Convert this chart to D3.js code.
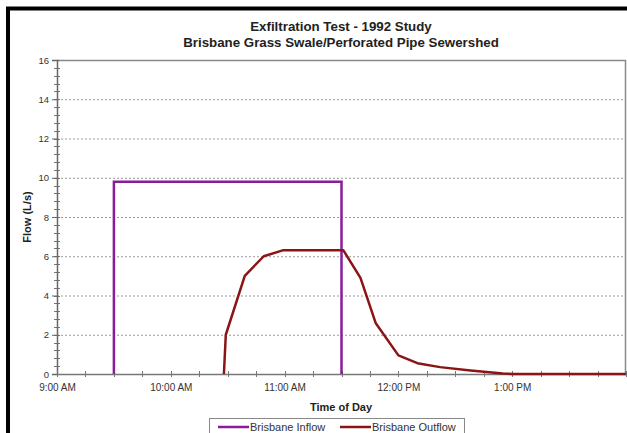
<!DOCTYPE html>
<html>
<head>
<meta charset="utf-8">
<script src="https://cdn.jsdelivr.net/npm/d3@7"></script>
<style>
  body { margin: 0; background: #fff; }
  svg { display: block; font-family: "Liberation Sans", Arial, sans-serif; }
</style>
</head>
<body>
<svg id="chart" width="627" height="433"></svg>
<script>
// Data (time as "H:MM", flow in L/s)
var inflowTimes = ["9:30", "9:30", "11:30", "11:30"];
var inflowValues = [0, 9.8, 9.8, 0];

var outflowTimes = ["10:28", "10:29", "10:39", "10:49", "10:59", "11:31", "11:40", "11:48",
                    "12:00", "12:10", "12:22", "12:38", "12:55", "13:00", "14:00"];
var outflowValues = [0, 2.0, 5.0, 6.0, 6.3, 6.3, 4.9, 2.6, 0.95, 0.55, 0.35, 0.18, 0.03, 0, 0];

var yTicks = [0, 2, 4, 6, 8, 10, 12, 14, 16];
var xTickLabels = ["9:00 AM", "10:00 AM", "11:00 AM", "12:00 PM", "1:00 PM"];

var svg = d3.select('#chart');
var width = +svg.attr('width');
var height = +svg.attr('height');

var margin = {top: 60, right: 1, bottom: 59, left: 57};

var parseTime = function(s) {
    var p = s.split(':');
    return new Date(1992, 0, 1, +p[0], +p[1]);
};

var inflow = inflowTimes.map(function(t, i) { return {t: parseTime(t), v: inflowValues[i]}; });
var outflow = outflowTimes.map(function(t, i) { return {t: parseTime(t), v: outflowValues[i]}; });

var x = d3.scaleTime()
    .domain([parseTime("9:00"), parseTime("14:00")])
    .range([margin.left, width - margin.right]);
var y = d3.scaleLinear()
    .domain([0, 16])
    .range([height - margin.bottom, margin.top]);

// outer black frame
svg.append('path')
    .attr('d', 'M8,' + (height + 5) + ' V8.5 H' + (width + 5))
    .attr('fill', 'none')
    .attr('stroke', '#000')
    .attr('stroke-width', 4);

// grid lines
svg.append('g')
    .selectAll('line')
    .data(yTicks.filter(function(d) { return d > 0 && d < 16; }))
    .enter().append('line')
    .attr('x1', margin.left)
    .attr('x2', width - margin.right)
    .attr('y1', function(d) { return y(d) + 0.5; })
    .attr('y2', function(d) { return y(d) + 0.5; })
    .attr('stroke', '#9a9a9a')
    .attr('stroke-width', 1)
    .attr('stroke-dasharray', '2,2');

// plot border (top and right)
svg.append('path')
    .attr('d', 'M' + margin.left + ',' + (margin.top + 0.5) + ' H' + (width - margin.right - 0.5) + ' V' + (height - margin.bottom))
    .attr('fill', 'none')
    .attr('stroke', '#8a8a8a')
    .attr('stroke-width', 1.5);

// minor ticks on y (every 0.4)
var yMinor = d3.range(0, 16.01, 0.4);
svg.append('g')
    .selectAll('line')
    .data(yMinor)
    .enter().append('line')
    .attr('x1', margin.left - 3)
    .attr('x2', margin.left + 3)
    .attr('y1', function(d) { return Math.round(y(d)) + 0.5; })
    .attr('y2', function(d) { return Math.round(y(d)) + 0.5; })
    .attr('stroke', '#777');

// y axis
var yAxis = svg.append('g')
    .attr('transform', 'translate(' + margin.left + ',0)')
    .call(d3.axisLeft(y).tickValues(yTicks).tickSize(5).tickPadding(3));
yAxis.select('.domain').attr('stroke', '#666').attr('stroke-width', 1.5);
yAxis.selectAll('.tick line').attr('stroke', '#666');
yAxis.selectAll('text').attr('font-size', 9.5).attr('fill', '#333');

// x axis: minor ticks every 15 minutes, labels every hour
var xMinor = d3.timeMinute.every(15).range(parseTime("9:00"), parseTime("14:01"));
svg.append('g')
    .selectAll('line')
    .data(xMinor)
    .enter().append('line')
    .attr('x1', function(d) { return Math.round(x(d)) + 0.5; })
    .attr('x2', function(d) { return Math.round(x(d)) + 0.5; })
    .attr('y1', y(0) - 3)
    .attr('y2', y(0) + 3)
    .attr('stroke', '#777');

var xHours = d3.timeHour.every(1).range(parseTime("9:00"), parseTime("13:01"));
var xAxis = svg.append('g')
    .attr('transform', 'translate(0,' + y(0) + ')')
    .call(d3.axisBottom(x).tickValues(xHours).tickSize(0).tickPadding(10)
        .tickFormat(function(d, i) { return xTickLabels[i]; }));
xAxis.select('.domain').attr('stroke', '#777').attr('stroke-width', 1.5);
xAxis.selectAll('text').attr('font-size', 10).attr('fill', '#333');

// series lines
var line = d3.line()
    .x(function(d) { return x(d.t); })
    .y(function(d) { return y(d.v); });

svg.append('path')
    .datum(inflow)
    .attr('d', line)
    .attr('fill', 'none')
    .attr('stroke', '#8a1c9c')
    .attr('stroke-width', 2.5);

svg.append('path')
    .datum(outflow)
    .attr('d', line)
    .attr('fill', 'none')
    .attr('stroke', '#8b1414')
    .attr('stroke-width', 2.5)
    .attr('stroke-linejoin', 'round');

// titles
var cx = 341;
svg.append('text')
    .attr('x', cx).attr('y', 31)
    .attr('text-anchor', 'middle')
    .attr('font-size', 13.3).attr('font-weight', 'bold').attr('fill', '#222')
    .text('Exfiltration Test - 1992 Study');
svg.append('text')
    .attr('x', cx).attr('y', 47)
    .attr('text-anchor', 'middle')
    .attr('font-size', 13.3).attr('font-weight', 'bold').attr('fill', '#222')
    .text('Brisbane Grass Swale/Perforated Pipe Sewershed');

svg.append('text')
    .attr('x', cx).attr('y', 411)
    .attr('text-anchor', 'middle')
    .attr('font-size', 11).attr('font-weight', 'bold').attr('fill', '#222')
    .text('Time of Day');

svg.append('text')
    .attr('transform', 'translate(31,' + (margin.top + (y(0) - margin.top) / 2) + ') rotate(-90)')
    .attr('text-anchor', 'middle')
    .attr('font-size', 11).attr('font-weight', 'bold').attr('fill', '#222')
    .text('Flow (L/s)');

// legend
var legend = svg.append('g');
legend.append('rect')
    .attr('x', 209.5).attr('y', 418.5)
    .attr('width', 255).attr('height', 20)
    .attr('fill', '#fff')
    .attr('stroke', '#888');

var legendItems = [
    {name: 'Brisbane Inflow', color: '#8a1c9c', x: 218},
    {name: 'Brisbane Outflow', color: '#8b1414', x: 340}
];
legendItems.forEach(function(d) {
    legend.append('line')
        .attr('x1', d.x).attr('x2', d.x + 31)
        .attr('y1', 427).attr('y2', 427)
        .attr('stroke', d.color)
        .attr('stroke-width', 2.5);
    legend.append('text')
        .attr('x', d.x + 32).attr('y', 431)
        .attr('font-size', 11).attr('fill', '#333')
        .text(d.name);
});
</script>
</body>
</html>
